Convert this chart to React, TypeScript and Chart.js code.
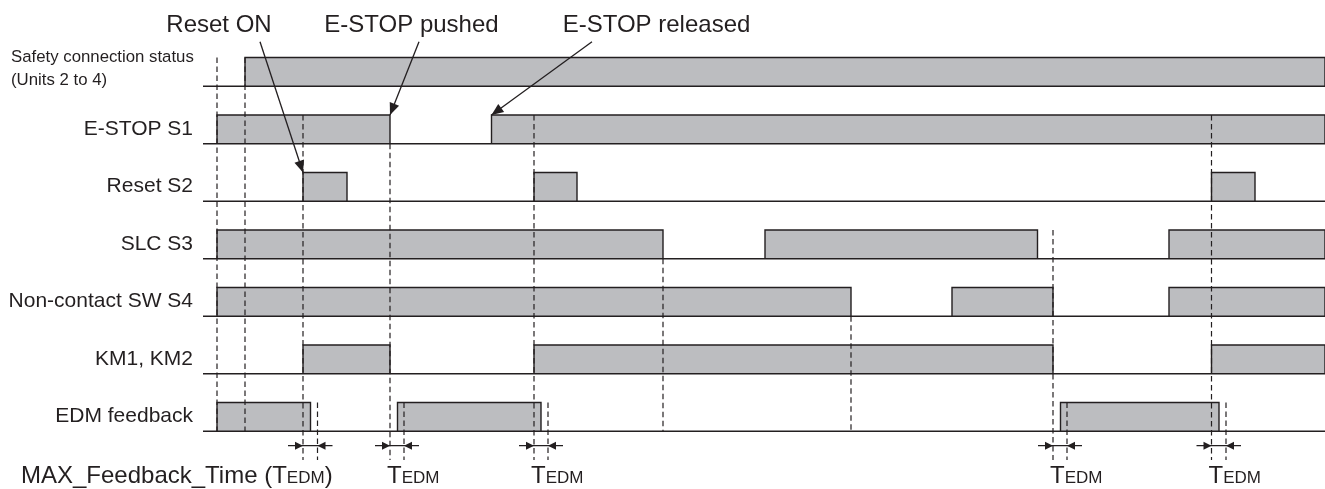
import { useEffect, useRef } from 'react';
import { Chart, registerables } from 'chart.js';

Chart.register(...registerables);

// ---- data (time in arbitrary units, rows indexed from the top) ----
const rowLabels = [
  'Safety connection status\n(Units 2 to 4)',
  'E-STOP S1',
  'Reset S2',
  'SLC S3',
  'Non-contact SW S4',
  'KM1, KM2',
  'EDM feedback',
];

const timeEnd = 112.2;

// ON intervals [start, end] for every signal
const safetyOn = [[4.2, timeEnd]];
const estopOn = [[1.4, 18.7], [28.85, timeEnd]];
const resetOn = [[10.0, 14.4], [33.1, 37.4], [100.85, 105.2]];
const slcOn = [[1.4, 46.0], [56.2, 83.45], [96.6, timeEnd]];
const nonContactOn = [[1.4, 64.8], [74.9, 85.0], [96.6, timeEnd]];
const kmOn = [[10.0, 18.7], [33.1, 85.0], [100.85, timeEnd]];
const edmOn = [[1.4, 10.75], [19.45, 33.8], [85.75, 101.6]];

const signals = [safetyOn, estopOn, resetOn, slcOn, nonContactOn, kmOn, edmOn];

// dashed event markers: time, first row level, last row level
const eventTimes = [1.4, 4.2, 10.0, 18.7, 33.1, 46.0, 64.8, 85.0, 100.85];
const eventFrom = [-0.5, -0.5, 0.5, 1, 0.5, 3, 4, 2.5, 0.5];
const eventTo = [6, 6, 6.5, 6.5, 6.5, 6, 6, 6.5, 6.5];

// T_EDM windows
const tedmStart = [10.0, 18.7, 33.1, 85.0, 100.85];
const tedmEnd = [11.45, 20.1, 34.5, 86.4, 102.3];

// callouts
const calloutTexts = ['Reset ON', 'E-STOP pushed', 'E-STOP released'];
const calloutTextT = [1.6, 20.85, 45.35];
const calloutTailT = [5.7, 21.6, 38.9];
const calloutTipT = [10.0, 18.7, 28.85];
const calloutTipRow = [1.5, 0.5, 0.5];

const bottomLabel = 'MAX_Feedback_Time (';

// ---- styles ----
const INK = '#231f20';
const FILL = '#bcbdc0';
const FONT = '"Liberation Sans", Arial, Helvetica, sans-serif';

function buildDatasets() {
  const ds: any[] = [];
  // dashed event lines (top-most)
  eventTimes.forEach((t, k) => {
    ds.push({
      data: [{ x: t, y: eventFrom[k] }, { x: t, y: eventTo[k] }],
      borderColor: INK, borderWidth: 1.2, borderDash: [5.5, 3.5],
      pointRadius: 0, fill: false,
    });
  });
  tedmEnd.forEach((t) => {
    ds.push({
      data: [{ x: t, y: 5.5 }, { x: t, y: 6.5 }],
      borderColor: INK, borderWidth: 1.2, borderDash: [5.5, 3.5],
      pointRadius: 0, fill: false,
    });
  });
  // baselines
  signals.forEach((_, i) => {
    ds.push({
      data: [{ x: 0, y: i }, { x: timeEnd, y: i }],
      borderColor: INK, borderWidth: 1.3, pointRadius: 0, fill: false,
    });
  });
  // pulses
  signals.forEach((intervals, i) => {
    intervals.forEach(([s, e]) => {
      ds.push({
        data: [
          { x: s, y: i }, { x: s, y: i - 0.5 },
          { x: e, y: i - 0.5 }, { x: e, y: i },
        ],
        borderColor: INK, borderWidth: 1.4, backgroundColor: FILL,
        pointRadius: 0, fill: { value: i },
      });
    });
  });
  return ds;
}

function arrowHead(ctx: CanvasRenderingContext2D, tx: number, ty: number, fx: number, fy: number, len: number, half: number) {
  const a = Math.atan2(ty - fy, tx - fx);
  ctx.beginPath();
  ctx.moveTo(tx, ty);
  ctx.lineTo(tx - len * Math.cos(a) + half * Math.sin(a), ty - len * Math.sin(a) - half * Math.cos(a));
  ctx.lineTo(tx - len * Math.cos(a) - half * Math.sin(a), ty - len * Math.sin(a) + half * Math.cos(a));
  ctx.closePath();
  ctx.fill();
}

const annotate = {
  id: 'annotate',
  afterDatasetsDraw(chart: any) {
    const ctx: CanvasRenderingContext2D = chart.ctx;
    const xs = chart.scales.x;
    const ys = chart.scales.y;
    const X = (t: number) => xs.getPixelForValue(t);
    const Y = (v: number) => ys.getPixelForValue(v);
    const left = chart.chartArea.left;
    ctx.save();
    ctx.fillStyle = INK;
    ctx.strokeStyle = INK;

    // row labels
    rowLabels.forEach((lab, i) => {
      const cy = Y(i - 0.25);
      if (lab.includes('\n')) {
        const lines = lab.split('\n');
        ctx.font = `16.8px ${FONT}`;
        ctx.textAlign = 'left';
        ctx.textBaseline = 'alphabetic';
        ctx.fillText(lines[0], 11, cy - 10);
        ctx.fillText(lines[1], 11, cy + 13);
      } else {
        ctx.font = `21px ${FONT}`;
        ctx.textAlign = 'right';
        ctx.textBaseline = 'alphabetic';
        ctx.fillText(lab, left - 10, cy + 5.5);
      }
    });

    // callouts
    calloutTexts.forEach((txt, k) => {
      ctx.font = `24px ${FONT}`;
      ctx.textAlign = 'center';
      ctx.textBaseline = 'alphabetic';
      ctx.fillText(txt, X(calloutTextT[k]), Y(-0.944));
      const fx = X(calloutTailT[k]);
      const fy = Y(-0.775);
      const tx = X(calloutTipT[k]);
      const ty = Y(calloutTipRow[k]);
      ctx.lineWidth = 1.3;
      ctx.beginPath();
      ctx.moveTo(fx, fy);
      ctx.lineTo(tx, ty);
      ctx.stroke();
      arrowHead(ctx, tx, ty, fx, fy, 12, 5);
    });

    // T_EDM dimension arrows
    const ay = Y(6.25);
    tedmStart.forEach((s, k) => {
      const sx = X(s);
      const ex = X(tedmEnd[k]);
      ctx.lineWidth = 1.2;
      ctx.beginPath();
      ctx.moveTo(sx - 15, ay);
      ctx.lineTo(ex + 15, ay);
      ctx.stroke();
      arrowHead(ctx, sx, ay, sx - 15, ay, 8, 4);
      arrowHead(ctx, ex, ay, ex + 15, ay, 8, 4);
    });

    // bottom labels
    const by = 483;
    const drawTedm = (x0: number) => {
      ctx.textAlign = 'left';
      ctx.font = `24px ${FONT}`;
      ctx.fillText('T', x0, by);
      let x = x0 + ctx.measureText('T').width;
      ctx.font = `17px ${FONT}`;
      ctx.fillText('EDM', x, by);
      x += ctx.measureText('EDM').width;
      return x;
    };
    ctx.textBaseline = 'alphabetic';
    ctx.textAlign = 'left';
    ctx.font = `24px ${FONT}`;
    ctx.fillText(bottomLabel, 21, by);
    let bx = 21 + ctx.measureText(bottomLabel).width;
    bx = drawTedm(bx);
    ctx.font = `24px ${FONT}`;
    ctx.fillText(')', bx, by);
    tedmStart.slice(1).forEach((s) => {
      drawTedm(X(s) - 3);
    });

    ctx.restore();
  },
};

export default function App() {
  const ref = useRef<HTMLCanvasElement>(null);
  useEffect(() => {
    if (!ref.current) return;
    const chart = new Chart(ref.current, {
      type: 'line',
      data: { datasets: buildDatasets() },
      options: {
        animation: false,
        responsive: true,
        maintainAspectRatio: false,
        events: [],
        layout: { padding: { left: 203, right: 0, top: 0, bottom: 0 } },
        elements: { line: { tension: 0 } },
        scales: {
          x: { type: 'linear', min: 0, max: timeEnd, display: false },
          y: { type: 'linear', min: -1.5, max: 7.004, reverse: true, display: false },
        },
        plugins: {
          legend: { display: false },
          tooltip: { enabled: false },
        },
      },
      plugins: [annotate],
    } as any);
    return () => chart.destroy();
  }, []);
  return (
    <div style={{ position: 'fixed', left: 0, top: 0, width: 1325, height: 489, background: '#fff' }}>
      <canvas ref={ref} />
    </div>
  );
}
